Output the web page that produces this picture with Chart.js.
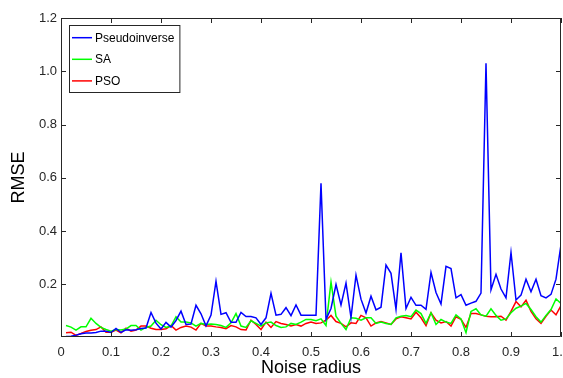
<!DOCTYPE html>
<html lang="en">
<head>
<meta charset="UTF-8">
<title>RMSE vs Noise radius</title>
<script src="https://cdn.jsdelivr.net/npm/chart.js"></script>
<style>
  html, body { margin: 0; padding: 0; background: #fff; }
  #wrap { width: 563px; height: 378px; }
</style>
</head>
<body>
<div id="wrap"><canvas id="chart" width="563" height="378"></canvas></div>
<script>
// noise radius steps (x) and RMSE per method
const noiseRadius = [
  0.01, 0.02, 0.03, 0.04, 0.05, 0.06, 0.07, 0.08, 0.09, 0.10,
  0.11, 0.12, 0.13, 0.14, 0.15, 0.16, 0.17, 0.18, 0.19, 0.20,
  0.21, 0.22, 0.23, 0.24, 0.25, 0.26, 0.27, 0.28, 0.29, 0.30,
  0.31, 0.32, 0.33, 0.34, 0.35, 0.36, 0.37, 0.38, 0.39, 0.40,
  0.41, 0.42, 0.43, 0.44, 0.45, 0.46, 0.47, 0.48, 0.49, 0.50,
  0.51, 0.52, 0.53, 0.54, 0.55, 0.56, 0.57, 0.58, 0.59, 0.60,
  0.61, 0.62, 0.63, 0.64, 0.65, 0.66, 0.67, 0.68, 0.69, 0.70,
  0.71, 0.72, 0.73, 0.74, 0.75, 0.76, 0.77, 0.78, 0.79, 0.80,
  0.81, 0.82, 0.83, 0.84, 0.85, 0.86, 0.87, 0.88, 0.89, 0.90,
  0.91, 0.92, 0.93, 0.94, 0.95, 0.96, 0.97, 0.98, 0.99, 1.00
];
const pseudoinverse = [
  0.005, 0.006, 0.010, 0.015, 0.018, 0.018, 0.020, 0.025, 0.025, 0.020,
  0.035, 0.020, 0.030, 0.028, 0.030, 0.035, 0.037, 0.095, 0.055, 0.033,
  0.058, 0.040, 0.065, 0.100, 0.050, 0.052, 0.122, 0.090, 0.045, 0.085,
  0.212, 0.088, 0.094, 0.058, 0.058, 0.095, 0.080, 0.080, 0.075, 0.050,
  0.075, 0.167, 0.085, 0.088, 0.113, 0.083, 0.123, 0.085, 0.085, 0.085,
  0.085, 0.580, 0.069, 0.110, 0.200, 0.123, 0.205, 0.076, 0.235, 0.145,
  0.093, 0.156, 0.105, 0.115, 0.273, 0.242, 0.107, 0.319, 0.110, 0.152,
  0.122, 0.122, 0.107, 0.245, 0.170, 0.127, 0.268, 0.260, 0.150, 0.162,
  0.122, 0.130, 0.137, 0.168, 1.030, 0.180, 0.238, 0.183, 0.150, 0.320,
  0.142, 0.160, 0.220, 0.173, 0.220, 0.158, 0.150, 0.163, 0.220, 0.350
];
const sa = [
  0.046, 0.040, 0.029, 0.041, 0.041, 0.073, 0.054, 0.039, 0.031, 0.025,
  0.031, 0.029, 0.033, 0.046, 0.046, 0.029, 0.039, 0.044, 0.066, 0.049,
  0.039, 0.044, 0.079, 0.059, 0.059, 0.056, 0.044, 0.054, 0.050, 0.052,
  0.050, 0.046, 0.039, 0.056, 0.091, 0.044, 0.039, 0.064, 0.054, 0.044,
  0.056, 0.059, 0.046, 0.039, 0.041, 0.054, 0.050, 0.059, 0.069, 0.069,
  0.064, 0.071, 0.046, 0.209, 0.081, 0.054, 0.031, 0.075, 0.073, 0.066,
  0.075, 0.075, 0.054, 0.059, 0.054, 0.050, 0.075, 0.081, 0.084, 0.079,
  0.104, 0.091, 0.054, 0.094, 0.050, 0.069, 0.059, 0.054, 0.086, 0.071,
  0.019, 0.099, 0.109, 0.086, 0.081, 0.109, 0.084, 0.066, 0.071, 0.094,
  0.111, 0.119, 0.129, 0.106, 0.079, 0.059, 0.084, 0.106, 0.146, 0.129
];
const pso = [
  0.019, 0.021, 0.009, 0.016, 0.024, 0.028, 0.031, 0.041, 0.021, 0.021,
  0.029, 0.019, 0.036, 0.025, 0.029, 0.044, 0.044, 0.036, 0.031, 0.031,
  0.034, 0.046, 0.029, 0.039, 0.044, 0.040, 0.029, 0.054, 0.044, 0.044,
  0.041, 0.039, 0.034, 0.046, 0.041, 0.031, 0.029, 0.066, 0.050, 0.031,
  0.059, 0.039, 0.061, 0.054, 0.050, 0.044, 0.050, 0.044, 0.054, 0.059,
  0.054, 0.056, 0.066, 0.084, 0.061, 0.054, 0.041, 0.056, 0.054, 0.084,
  0.075, 0.044, 0.056, 0.061, 0.056, 0.050, 0.071, 0.079, 0.075, 0.071,
  0.096, 0.075, 0.046, 0.094, 0.066, 0.056, 0.061, 0.044, 0.079, 0.069,
  0.039, 0.091, 0.091, 0.086, 0.081, 0.079, 0.079, 0.081, 0.066, 0.099,
  0.136, 0.116, 0.141, 0.099, 0.071, 0.054, 0.081, 0.104, 0.086, 0.121
];
const xTicks = [0, 0.1, 0.2, 0.3, 0.4, 0.5, 0.6, 0.7, 0.8, 0.9, 1];
const yTicks = [0.2, 0.4, 0.6, 0.8, 1, 1.2];

const axisColor = '#262626';
const fontFamily = '"Liberation Sans", Arial, Helvetica, sans-serif';

// MATLAB-ish box with inward ticks
const boxAxes = {
  id: 'boxAxes',
  afterDatasetsDraw(chart) {
    const { ctx, chartArea: a, scales } = chart;
    const tl = 5;
    ctx.save();
    ctx.strokeStyle = axisColor;
    ctx.lineWidth = 1;
    ctx.beginPath();
    ctx.rect(a.left + 0.5, a.top + 0.5, a.right - a.left - 1, a.bottom - a.top - 1);
    scales.x.ticks.forEach(t => {
      const px = Math.round(scales.x.getPixelForValue(t.value)) + 0.5;
      ctx.moveTo(px, a.bottom); ctx.lineTo(px, a.bottom - tl);
      ctx.moveTo(px, a.top); ctx.lineTo(px, a.top + tl);
    });
    scales.y.ticks.forEach(t => {
      const py = Math.round(scales.y.getPixelForValue(t.value)) + 0.5;
      ctx.moveTo(a.left, py); ctx.lineTo(a.left + tl, py);
      ctx.moveTo(a.right, py); ctx.lineTo(a.right - tl, py);
    });
    ctx.stroke();
    ctx.restore();
  }
};

// legend box in the upper-left corner of the axes
const insetLegend = {
  id: 'insetLegend',
  afterDraw(chart) {
    const { ctx, chartArea: a } = chart;
    const sets = chart.data.datasets;
    ctx.save();
    ctx.font = '12px ' + fontFamily;
    const textW = Math.max(...sets.map(d => ctx.measureText(d.label).width));
    const x0 = a.left + 8, y0 = a.top + 7;
    const rowH = 21.6;
    const w = 26 + textW + 5;
    const h = 67;
    ctx.fillStyle = '#fff';
    ctx.fillRect(x0, y0, w, h);
    ctx.strokeStyle = axisColor;
    ctx.lineWidth = 1;
    ctx.strokeRect(x0 + 0.5, y0 + 0.5, w, h);
    sets.forEach((d, i) => {
      const cy = y0 + 12.7 + i * rowH;
      ctx.strokeStyle = d.borderColor;
      ctx.lineWidth = 1.5;
      ctx.beginPath();
      ctx.moveTo(x0 + 3, cy);
      ctx.lineTo(x0 + 23, cy);
      ctx.stroke();
      ctx.fillStyle = '#000';
      ctx.textBaseline = 'middle';
      ctx.fillText(d.label, x0 + 26, cy + 0.5);
    });
    ctx.restore();
  }
};

function series(vals) {
  return vals.map((v, i) => ({ x: noiseRadius[i], y: v }));
}

new Chart(document.getElementById('chart'), {
  type: 'line',
  data: {
    datasets: [
      { label: 'Pseudoinverse', data: series(pseudoinverse), borderColor: '#0000ff' },
      { label: 'SA', data: series(sa), borderColor: '#00ff00' },
      { label: 'PSO', data: series(pso), borderColor: '#ff0000' }
    ]
  },
  options: {
    responsive: false,
    animation: false,
    layout: { padding: { top: 18, right: 2, left: 0, bottom: 0 } },
    elements: {
      line: { borderWidth: 1.5, tension: 0 },
      point: { radius: 0 }
    },
    plugins: {
      legend: { display: false },
      tooltip: { enabled: false }
    },
    scales: {
      x: {
        type: 'linear',
        min: 0,
        max: 1,
        afterBuildTicks: s => { s.ticks = xTicks.map(v => ({ value: v })); },
        afterFit: s => { s.height = 41; s.paddingLeft = 0; s.paddingRight = 0; },
        grid: { display: false, drawTicks: false },
        border: { display: false },
        ticks: {
          color: axisColor,
          padding: 8,
          maxRotation: 0,
          font: { family: fontFamily, size: 13 }
        },
        title: {
          display: true,
          text: 'Noise radius',
          color: '#000',
          padding: { top: 0, bottom: -1 },
          font: { family: fontFamily, size: 18 }
        }
      },
      y: {
        type: 'linear',
        min: 0.003,
        max: 1.2,
        afterBuildTicks: s => { s.ticks = yTicks.map(v => ({ value: v })); },
        afterFit: s => { s.width = 61; s.paddingTop = 0; s.paddingBottom = 0; },
        grid: { display: false, drawTicks: false },
        border: { display: false },
        ticks: {
          color: axisColor,
          padding: 4,
          font: { family: fontFamily, size: 13 }
        },
        title: {
          display: true,
          text: 'RMSE',
          color: '#000',
          padding: { top: 8, bottom: 0 },
          font: { family: fontFamily, size: 18 }
        }
      }
    }
  },
  plugins: [boxAxes, insetLegend]
});
</script>
</body>
</html>
